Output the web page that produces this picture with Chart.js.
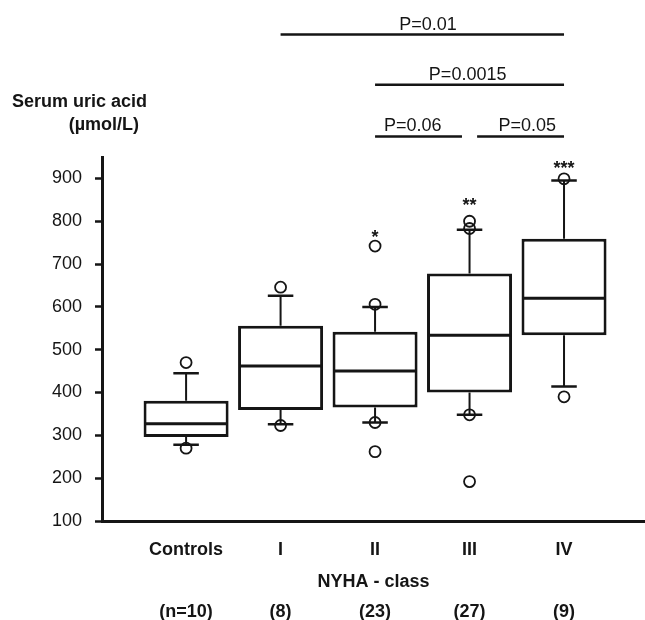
<!DOCTYPE html>
<html>
<head>
<meta charset="utf-8">
<script src="https://cdn.jsdelivr.net/npm/chart.js@4.4.1/dist/chart.umd.min.js"></script>
<style>
  html, body { margin: 0; padding: 0; background: #fff; overflow: hidden; }
  #wrap { width: 645px; height: 620px; position: relative; }
  #chart { display: block; }
</style>
</head>
<body>
<div id="wrap"><canvas id="chart"></canvas></div>
<script>
// values (umol/L)
const categories  = ['Controls', 'I', 'II', 'III', 'IV'];
const groupSizes  = ['(n=10)', '(8)', '(23)', '(27)', '(9)'];
const whiskerLow  = [278, 326, 330, 348, 414];
const quartile1   = [296, 359, 365, 400, 534];
const medians     = [327, 462, 450, 534, 620];
const quartile3   = [381, 556, 542, 678, 759];
const whiskerHigh = [445, 626, 600, 780, 895];
const outliers    = [[470, 270], [646, 323], [742, 606, 330, 262], [800, 783, 348, 192], [899, 390]];
const stars       = ['', '', '*', '**', '***'];
const yTickLabels = [100, 200, 300, 400, 500, 600, 700, 800, 900];
const yMinorTicks = [150, 250, 350, 450, 550, 650, 750, 850];
const comparisons = [
  { from: 1, to: 4, label: 'P=0.01' },
  { from: 2, to: 4, label: 'P=0.0015' },
  { from: 2, to: 3, label: 'P=0.06' },
  { from: 3, to: 4, label: 'P=0.05' }
];

// layout of the annotations (in axis units, above the plot)
const bracketLevel = [1236, 1119, 998, 998];
const bracketSpan = [[1, 4], [2, 4], [2, 2.92], [3.08, 4]];
const labelAt = [2.56, 2.98, 2.40, 3.61];
const starLevel = [0, 0, 776, 850, 937];

const INK = '#151515';
const FONT = "'Liberation Sans', Arial, Helvetica, sans-serif";

function segments(list) {
  const pts = [];
  list.forEach(s => { pts.push({ x: s[0], y: s[1] }, { x: s[2], y: s[3] }, { x: s[0], y: null }); });
  return pts;
}

const whiskerSegs = [];
const capSegs = [];
const medianSegs = [];
categories.forEach((c, i) => {
  whiskerSegs.push([i, quartile3[i], i, whiskerHigh[i]], [i, quartile1[i], i, whiskerLow[i]]);
  capSegs.push([i - 0.135, whiskerHigh[i], i + 0.135, whiskerHigh[i]], [i - 0.135, whiskerLow[i], i + 0.135, whiskerLow[i]]);
  medianSegs.push([i - 0.44, medians[i], i + 0.44, medians[i]]);
});
const bracketSegs = comparisons.map((c, k) => [bracketSpan[k][0], bracketLevel[k], bracketSpan[k][1], bracketLevel[k]]);

const outlierPoints = outliers.flatMap((vals, i) => vals.map(v => ({ x: i, y: v })));

const catTicks = scale => { scale.ticks = categories.map((c, i) => ({ value: i })); };

const annotations = {
  id: 'annotations',
  afterDraw(chart) {
    const { ctx, scales: { x, y } } = chart;
    ctx.save();
    ctx.fillStyle = INK;

    // y axis title
    ctx.font = 'bold 18px ' + FONT;
    ctx.textAlign = 'right';
    ctx.textBaseline = 'middle';
    ctx.fillText('Serum uric acid', 147, 102);
    ctx.fillText('(\u00b5mol/L)', 139, 125);

    // p values above the brackets
    ctx.font = '18px ' + FONT;
    ctx.textAlign = 'center';
    ctx.textBaseline = 'alphabetic';
    comparisons.forEach((c, k) => {
      ctx.fillText(c.label, x.getPixelForValue(labelAt[k]), y.getPixelForValue(bracketLevel[k]) - 5);
    });

    // significance stars
    ctx.font = 'bold 18px ' + FONT;
    stars.forEach((s, i) => {
      if (!s) return;
      ctx.fillText(s, x.getPixelForValue(i), y.getPixelForValue(starLevel[i]) + 11);
    });
    ctx.restore();
  }
};

new Chart(document.getElementById('chart'), {
  type: 'bar',
  data: {
    datasets: [
      {
        type: 'scatter',
        data: outlierPoints,
        pointStyle: 'circle',
        pointRadius: 5.5,
        pointHoverRadius: 5.5,
        pointBorderWidth: 1.8,
        pointBackgroundColor: 'rgba(0,0,0,0)',
        pointBorderColor: INK,
        order: 1
      },
      {
        type: 'line',
        data: segments(medianSegs),
        borderColor: INK,
        borderWidth: 3,
        pointRadius: 0,
        spanGaps: false,
        order: 2
      },
      {
        type: 'line',
        data: segments(capSegs),
        borderColor: INK,
        borderWidth: 2.5,
        pointRadius: 0,
        spanGaps: false,
        order: 2
      },
      {
        type: 'line',
        data: segments(whiskerSegs),
        borderColor: INK,
        borderWidth: 2,
        pointRadius: 0,
        spanGaps: false,
        order: 3
      },
      {
        type: 'line',
        data: segments(bracketSegs),
        borderColor: INK,
        borderWidth: 2.5,
        pointRadius: 0,
        spanGaps: false,
        clip: false,
        order: 2
      },
      {
        type: 'bar',
        data: categories.map((c, i) => ({ x: i, y: [quartile1[i], quartile3[i]] })),
        backgroundColor: '#fff',
        borderColor: INK,
        borderWidth: 3,
        borderSkipped: false,
        barPercentage: 0.9,
        categoryPercentage: 1,
        order: 4
      }
    ]
  },
  options: {
    responsive: true,
    maintainAspectRatio: false,
    animation: false,
    layout: { autoPadding: false, padding: { top: 157, left: 0, right: 0, bottom: 0 } },
    plugins: {
      legend: { display: false },
      tooltip: { enabled: false }
    },
    scales: {
      x: {
        type: 'linear',
        position: 'bottom',
        weight: 0,
        offset: false,
        min: -0.89,
        max: 4.857,
        afterBuildTicks: catTicks,
        afterFit: s => { s.height = 72; },
        grid: { display: false, drawTicks: false, offset: false },
        border: { display: true, color: INK, width: 3 },
        ticks: {
          padding: 18,
          color: INK,
          font: { family: FONT, size: 18, weight: 'bold' },
          callback: v => categories[v]
        },
        title: {
          display: true,
          text: 'NYHA - class',
          color: INK,
          padding: { top: 0, bottom: 0 },
          font: { family: FONT, size: 18, weight: 'bold' }
        }
      },
      x2: {
        type: 'linear',
        position: 'bottom',
        weight: 1,
        offset: false,
        min: -0.89,
        max: 4.857,
        afterBuildTicks: catTicks,
        afterFit: s => { s.height = 27; },
        grid: { display: false, drawTicks: false, offset: false },
        border: { display: false },
        ticks: {
          padding: 8,
          color: INK,
          font: { family: FONT, size: 18, weight: 'bold' },
          callback: v => groupSizes[v]
        }
      },
      y: {
        type: 'linear',
        min: 100,
        max: 950,
        afterBuildTicks: s => {
          s.ticks = yTickLabels.concat(yMinorTicks).sort((a, b) => a - b).map(v => ({ value: v }));
        },
        afterFit: s => { s.width = 102; },
        grid: {
          display: true,
          drawOnChartArea: false,
          drawTicks: true,
          tickLength: 7,
          tickColor: INK,
          tickWidth: c => (c.tick && c.tick.value % 100 === 0 ? 2.5 : 2)
        },
        border: { display: true, color: INK, width: 3 },
        ticks: {
          padding: 13,
          color: INK,
          font: { family: FONT, size: 18 },
          callback: v => (yTickLabels.includes(v) ? v : '')
        }
      }
    }
  },
  plugins: [annotations]
});
</script>
</body>
</html>
